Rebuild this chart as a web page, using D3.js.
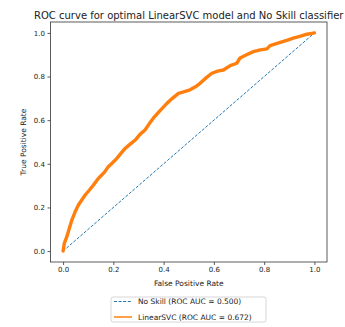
<!DOCTYPE html>
<html>
<head>
<meta charset="utf-8">
<script src="https://cdn.jsdelivr.net/npm/d3@7"></script>
<style>
  html, body { margin: 0; padding: 0; background: #fff; }
  svg { display: block; font-family: "DejaVu Sans", sans-serif; }
</style>
</head>
<body>
<svg id="chart" width="345" height="327"></svg>
<script>
// ROC curve points for the tuned LinearSVC model
const fpr = [0, 0.005, 0.015, 0.025, 0.035, 0.048, 0.061, 0.075, 0.088, 0.105,
  0.121, 0.135, 0.147, 0.165, 0.18, 0.197, 0.214, 0.23, 0.247, 0.267,
  0.287, 0.306, 0.326, 0.342, 0.359, 0.385, 0.413, 0.435, 0.459, 0.48,
  0.505, 0.525, 0.545, 0.57, 0.592, 0.615, 0.638, 0.665, 0.691, 0.704,
  0.73, 0.757, 0.785, 0.811, 0.824, 0.845, 0.864, 0.89, 0.916, 0.945,
  0.97, 0.985, 1.0];
const tpr = [0, 0.035, 0.066, 0.105, 0.142, 0.18, 0.211, 0.235, 0.257, 0.28,
  0.303, 0.325, 0.341, 0.362, 0.387, 0.405, 0.425, 0.448, 0.471, 0.49,
  0.509, 0.535, 0.555, 0.582, 0.609, 0.643, 0.677, 0.70, 0.723, 0.73,
  0.739, 0.752, 0.769, 0.795, 0.815, 0.825, 0.83, 0.85, 0.861, 0.885,
  0.90, 0.914, 0.922, 0.927, 0.942, 0.95, 0.957, 0.966, 0.976, 0.985,
  0.994, 0.997, 1.0];

// No-skill baseline (random classifier)
const noSkillFpr = [0, 1];
const noSkillTpr = [0, 1];

const ticks = [0, 0.2, 0.4, 0.6, 0.8, 1.0];
const legendLabels = ["No Skill (ROC AUC = 0.500)", "LinearSVC (ROC AUC = 0.672)"];
const seriesColors = ["#1f77b4", "#ff7f0e"];

const svg = d3.select("#chart");
const plot = { left: 50.5, right: 327, top: 22, bottom: 262 };

const x = d3.scaleLinear().domain([-0.05, 1.05]).range([plot.left, plot.right]);
const y = d3.scaleLinear().domain([-0.05, 1.05]).range([plot.bottom, plot.top]);

// Title
svg.append("text")
  .attr("x", (plot.left + plot.right) / 2)
  .attr("y", 18.5)
  .attr("text-anchor", "middle")
  .attr("font-size", 10)
  .attr("fill", "#222")
  .text("ROC curve for optimal LinearSVC model and No Skill classifier");

// Axes
const xAxis = svg.append("g")
  .attr("transform", `translate(0,${plot.bottom})`)
  .call(d3.axisBottom(x).tickValues(ticks).tickFormat(d3.format(".1f")).tickSize(3).tickPadding(2.5));
const yAxis = svg.append("g")
  .attr("transform", `translate(${plot.left},0)`)
  .call(d3.axisLeft(y).tickValues(ticks).tickFormat(d3.format(".1f")).tickSize(3).tickPadding(2.5));

[xAxis, yAxis].forEach(g => {
  g.select(".domain").remove();
  g.selectAll(".tick line").attr("stroke", "#333").attr("stroke-width", 0.8);
  g.selectAll(".tick text").attr("font-size", 7).attr("fill", "#222")
    .attr("font-family", "DejaVu Sans, sans-serif");
});

// Plot frame
svg.append("rect")
  .attr("x", plot.left).attr("y", plot.top)
  .attr("width", plot.right - plot.left).attr("height", plot.bottom - plot.top)
  .attr("fill", "none").attr("stroke", "#333").attr("stroke-width", 0.8);

// Axis labels
svg.append("text")
  .attr("x", (plot.left + plot.right) / 2)
  .attr("y", 286)
  .attr("text-anchor", "middle")
  .attr("font-size", 7.5)
  .attr("fill", "#222")
  .text("False Positive Rate");

svg.append("text")
  .attr("transform", `translate(25.5,${(plot.top + plot.bottom) / 2}) rotate(-90)`)
  .attr("text-anchor", "middle")
  .attr("font-size", 7.5)
  .attr("fill", "#222")
  .text("True Positive Rate");

// Curves
const line = d3.line().x(d => x(d[0])).y(d => y(d[1]));

svg.append("path")
  .datum(noSkillFpr.map((v, i) => [v, noSkillTpr[i]]))
  .attr("d", line)
  .attr("fill", "none")
  .attr("stroke", seriesColors[0])
  .attr("stroke-width", 1)
  .attr("stroke-dasharray", "3,1.6");

svg.append("path")
  .datum(fpr.map((v, i) => [v, tpr[i]]))
  .attr("d", line)
  .attr("fill", "none")
  .attr("stroke", seriesColors[1])
  .attr("stroke-width", 3.4)
  .attr("stroke-linejoin", "round")
  .attr("stroke-linecap", "round");

// Legend
const legend = svg.append("g").attr("transform", "translate(111,297)");
legend.append("rect")
  .attr("x", 0).attr("y", 0).attr("width", 155).attr("height", 25)
  .attr("rx", 2).attr("fill", "#fff").attr("stroke", "#ccc").attr("stroke-width", 0.8);

legendLabels.forEach((label, i) => {
  const cy = 4.5 + i * 15.5;
  legend.append("line")
    .attr("x1", 3).attr("x2", 21).attr("y1", cy).attr("y2", cy)
    .attr("stroke", seriesColors[i])
    .attr("stroke-width", i === 0 ? 1 : 1.5)
    .attr("stroke-dasharray", i === 0 ? "3,1.6" : null);
  legend.append("text")
    .attr("x", 27).attr("y", cy + 2.6)
    .attr("font-size", 7.5)
    .attr("fill", "#222")
    .text(label);
});
</script>
</body>
</html>
